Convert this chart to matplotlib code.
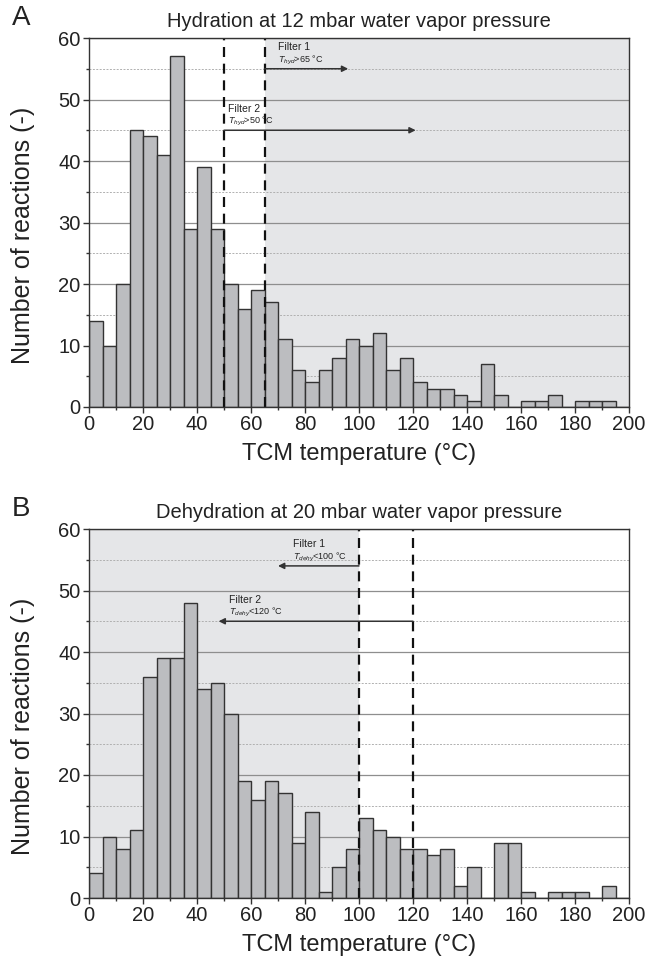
import matplotlib
matplotlib.use("Agg")
import matplotlib.pyplot as plt
from matplotlib.ticker import MultipleLocator

plt.rcParams['font.family'] = ['Liberation Sans', 'DejaVu Sans']
plt.rcParams['mathtext.fontset'] = 'custom'
plt.rcParams['mathtext.rm'] = 'Liberation Sans'
plt.rcParams['mathtext.it'] = 'Liberation Sans:italic'

# ---- data ----
bin_left = list(range(0, 200, 5))
bin_width = 5
hyd_counts = [14, 10, 20, 45, 44, 41, 57, 29, 39, 29,
              20, 16, 19, 17, 11, 6, 4, 6, 8, 11,
              10, 12, 6, 8, 4, 3, 3, 2, 1, 7,
              2, 0, 1, 1, 2, 0, 1, 1, 1, 0]
dehy_counts = [4, 10, 8, 11, 36, 39, 39, 48, 34, 35,
               30, 19, 16, 19, 17, 9, 14, 1, 5, 8,
               13, 11, 10, 8, 8, 7, 8, 2, 5, 0,
               9, 9, 1, 0, 1, 1, 1, 0, 2, 0]
titles = ["Hydration at 12 mbar water vapor pressure",
          "Dehydration at 20 mbar water vapor pressure"]
panel_letters = ["A", "B"]
xlabel = "TCM temperature (°C)"
ylabel = "Number of reactions (-)"
# filters: (threshold, arrow end, arrow y, label x, title, condition)
hyd_filters = [(65, 96, 55, 70, "Filter 1", r"$T_{hyd}$>65 °C"),
               (50, 121, 45, 51.5, "Filter 2", r"$T_{hyd}$>50 °C")]
dehy_filters = [(100, 70, 54, 75.5, "Filter 1", r"$T_{dehy}$<100 °C"),
                (120, 48, 45, 52, "Filter 2", r"$T_{dehy}$<120 °C")]
hyd_shade = (65, 200)
dehy_shade = (0, 100)

W, H = 649, 964
fig = plt.figure(figsize=(W / 100, H / 100), dpi=100)

axes_px = [(89, 38, 629, 407), (89, 529, 629, 898)]
datasets = [(hyd_counts, hyd_filters, hyd_shade),
            (dehy_counts, dehy_filters, dehy_shade)]

shade_col = '#e5e6e8'
bar_col = '#bcbdc0'
edge_col = '#333333'

for i, ((l, t, r, b), (counts, filters, shade)) in enumerate(zip(axes_px, datasets)):
    ax = fig.add_axes([l / W, 1 - b / H, (r - l) / W, (b - t) / H])
    ax.set_xlim(0, 200)
    ax.set_ylim(0, 60)
    ax.axvspan(shade[0], shade[1], color=shade_col, zorder=0, lw=0)
    ax.set_axisbelow(True)
    ax.yaxis.set_major_locator(MultipleLocator(10))
    ax.yaxis.set_minor_locator(MultipleLocator(5))
    ax.xaxis.set_major_locator(MultipleLocator(20))
    ax.xaxis.set_minor_locator(MultipleLocator(10))
    ax.grid(axis='y', which='major', color='#8e8e8e', lw=0.9, ls='-', zorder=0.5)
    ax.grid(axis='y', which='minor', color='#b0b0b0', lw=0.7, ls=(0, (2, 1.5)), zorder=0.5)
    ax.bar(bin_left, counts, width=bin_width, align='edge', color=bar_col,
           edgecolor=edge_col, linewidth=1.0, zorder=2)
    for thr, aend, ay, tx, ftitle, cond in filters:
        ax.axvline(thr, color='#111111', lw=1.6, ls=(0, (4.5, 3)), zorder=3)
        ax.annotate('', xy=(aend, ay), xytext=(thr, ay),
                    arrowprops=dict(arrowstyle='-|>', color='#333333', lw=1.1,
                                    mutation_scale=9, shrinkA=0, shrinkB=0),
                    zorder=4)
        ax.text(tx, ay + 3.5, ftitle, fontsize=7.5, color='#222222',
                ha='left', va='center', zorder=4)
        ax.text(tx, ay + 1.4, cond, fontsize=6.5, color='#222222',
                ha='left', va='center', zorder=4)
    for sp in ax.spines.values():
        sp.set_color('#333333')
        sp.set_linewidth(1.0)
        sp.set_zorder(5)
    ax.tick_params(axis='both', which='major', direction='out', length=4,
                   width=1, color='#333333', labelsize=14.5, labelcolor='#222222', pad=2)
    ax.tick_params(axis='both', which='minor', direction='out', length=2.5,
                   width=1, color='#333333')
    ax.set_xlabel(xlabel, fontsize=17, color='#222222', labelpad=6)
    ax.set_ylabel(ylabel, fontsize=18, color='#222222')
    ax.yaxis.set_label_coords(-0.1, 0.466)
    ax.set_title(titles[i], fontsize=14.5, color='#222222', pad=8)
    fig.text(12 / W, 1 - (t - 20) / H, panel_letters[i], fontsize=20,
             color='#222222', ha='left', va='center')

fig.savefig("out.png", dpi=100)
